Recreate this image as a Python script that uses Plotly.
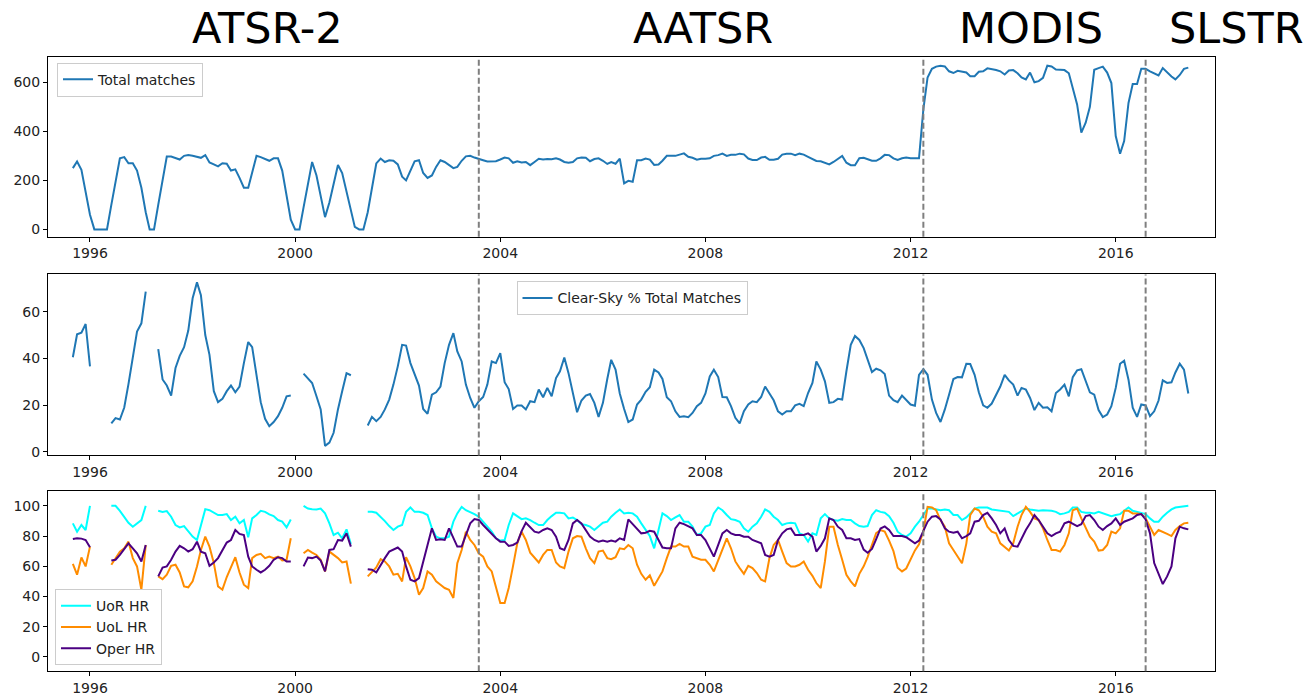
import pandas as pd
import plotly.graph_objects as go

N = None
months = pd.date_range("1995-09-01", periods=262, freq="MS")

total_matches = [
    250, 277, 243, 150, 60, 0, 0, 0, 0, 100,
    200, 290, 295, 270, 270, 240, 170, 70, 0, 0,
    100, 200, 297, 297, 292, 285, 300, 303, 300, 296,
    292, 303, 273, 265, 257, 270, 268, 240, 245, 210,
    170, 170, 235, 300, 295, 288, 280, 290, 290, 240,
    140, 40, 0, 0, 90, 180, 275, 220, 140, 50,
    110, 190, 263, 230, 150, 70, 10, 0, 0, 70,
    170, 269, 289, 275, 282, 280, 265, 215, 200, 240,
    278, 282, 230, 210, 220, 255, 282, 275, 262, 250,
    255, 280, 298, 300, 293, 289, 282, 277, 276, 278,
    285, 293, 290, 272, 278, 273, 275, 262, 275, 288,
    285, 287, 286, 290, 285, 275, 272, 275, 290, 293,
    292, 278, 287, 290, 280, 267, 275, 268, 289, 188,
    198, 194, 282, 282, 289, 285, 263, 265, 280, 300,
    300, 300, 305, 310, 296, 292, 284, 288, 288, 290,
    300, 303, 309, 300, 304, 304, 309, 306, 289, 283,
    283, 293, 296, 284, 284, 288, 305, 309, 309, 303,
    309, 305, 296, 286, 279, 278, 270, 265, 275, 288,
    300, 272, 262, 262, 290, 292, 287, 280, 280, 290,
    304, 303, 290, 283, 290, 293, 290, 289, 290, 490,
    620, 655, 664, 668, 665, 645, 638, 647, 644, 640,
    625, 625, 643, 645, 657, 655, 650, 645, 632, 648,
    650, 637, 620, 612, 640, 600, 605, 618, 668, 665,
    652, 651, 650, 637, 580, 510, 395, 435, 500, 651,
    658, 664, 640, 597, 381, 309, 360, 516, 593, 593,
    655, 655, 645, 635, 628, 658, 640, 624, 612, 630,
    655, 660,
]

clear_sky_pct = [
    40.5, 50.3, 51, 54.7, 36.6, N, N, N, N, 12.2,
    14.5, 13.9, 19, 29, 41, 51.5, 55, 68.5, N, N,
    44, 31, 28.4, 24.1, 35.9, 41.1, 44.8, 51.9, 65.7, 72.5,
    67, 50, 41.5, 26, 21.3, 22.7, 26, 28.4, 25.5, 28,
    38, 47, 44.8, 32.3, 21.3, 14.2, 11, 12.8, 15.3, 18.9,
    23.8, 24.1, N, N, 33.5, 31.6, 29.5, 23.8, 18.2, 2.6,
    4, 8.2, 18.2, 26, 33.7, 32.8, N, N, N, 11.3,
    15, 13.2, 15, 18.2, 22.4, 28.8, 36.6, 45.8, 45.5, 38,
    33, 28.4, 18.4, 16.3, 24.5, 25.5, 28, 38, 45.8, 50.8,
    43, 38.7, 28.8, 23.1, 18.9, 21.7, 23.5, 28.8, 38.7, 38,
    42.3, 29.8, 26.9, 18.4, 19.9, 19.9, 18.2, 21.7, 21.3, 26.7,
    23.4, 27.4, 23.8, 31.6, 34.5, 40.4, 33.7, 25.2, 17, 22,
    24.1, 24.8, 21, 15, 21, 31.2, 39.4, 35.2, 25, 18.4,
    12.8, 13.9, 20.3, 22.4, 25.7, 27.7, 35.2, 34, 31.2, 23.4,
    21.7, 17.4, 15, 15.3, 14.9, 16.7, 19.6, 21, 25, 32.3,
    35.2, 32, 23.5, 23.4, 19.6, 14.6, 12.2, 17.4, 20.3, 21.7,
    21.3, 23.5, 28, 25, 22.1, 17.4, 16, 17.4, 17.4, 19.9,
    20.6, 19.6, 25.2, 29.5, 38.7, 35.2, 30.2, 21, 21.3, 22.7,
    22.4, 34.5, 45.8, 49.6, 47.9, 44.4, 39.1, 34.2, 35.6, 34.9,
    33.3, 24.1, 22.1, 21.3, 24.1, 22.1, 20.3, 19.8, 33, 35.4,
    33, 22.4, 16.7, 12.8, 18.2, 24.5, 31.2, 32, 31.9, 37.7,
    37.6, 33, 25.5, 19.9, 18.9, 20.7, 24.1, 28, 33, 30.6,
    28.8, 24.1, 27.4, 26.7, 23.1, 17.9, 21, 18.9, 19.1, 17.4,
    25.2, 26.7, 28.8, 23.8, 32, 34.9, 35.4, 30.2, 25.5, 24.5,
    17.9, 14.9, 16, 19.6, 27.4, 37.7, 39, 30.9, 18.9, 15,
    20.3, 19.9, 15.3, 17.4, 22, 30.6, 29.5, 29.8, 34, 37.7,
    35.2, 25,
]

uor_hr = [
    88.4, 82.9, 87.3, 84, 100, N, N, N, N, 100,
    100, 96.7, 92.8, 88.8, 86.2, 88.4, 90.6, 100, N, N,
    96.7, 96, 96.5, 92.8, 87.3, 85.7, 86.6, 82.9, 79.6, 77.4,
    88, 97.8, 97.1, 95.4, 93.9, 93.9, 94.5, 90.6, 92.8, 88.4,
    90.6, 79.2, 91.7, 93.9, 96.7, 96, 94.3, 93.2, 90.6, 89.5,
    85.7, 91, N, N, 100, 98.2, 97.8, 97.6, 98.2, 95,
    88.4, 80.7, 82.2, 78.5, 84.4, 74.8, N, N, N, 96,
    96, 95.4, 92.8, 89.9, 86.6, 84, 86.2, 87.3, 96, 98.9,
    96, 96, 95.4, 93.9, 85.1, 79.6, 78.5, 78.5, 79.6, 89.5,
    95, 99.3, 97.1, 96, 94.5, 92.8, 89.5, 86.2, 82.9, 78.5,
    77, 77.4, 87.3, 95, 93.2, 91.2, 91.7, 90.6, 88.8, 87.3,
    87.3, 90.6, 93.2, 95.4, 95.4, 95, 91.7, 92.3, 90.6, 87.9,
    87.3, 86.2, 84, 86.6, 88.8, 89.5, 92.8, 95.4, 97.6, 95,
    95.4, 95, 92.8, 88.4, 84, 80, 71.9, 84, 95, 93.2,
    90.6, 92.3, 93.9, 89.5, 89.5, 86.2, 80.7, 81.8, 86.2, 87.3,
    95, 98.9, 97.1, 93.9, 91.2, 90.6, 89.5, 85.1, 82.9, 86.2,
    88.4, 92.8, 97.6, 96, 92.8, 90.6, 87.3, 88.4, 88.8, 88.4,
    81.8, 80.7, 76.3, 81.8, 80.7, 91.7, 94.5, 91.7, 90.6, 90.1,
    91.2, 90.6, 90.6, 88.4, 86.6, 86.2, 86.6, 93.9, 97.1, 96,
    95.4, 93.2, 88.8, 82.9, 80.7, 79.6, 81.8, 86.2, 89.5, 93.9,
    98.2, 98.2, 97.6, 97.1, 97.6, 97.1, 93.9, 93.9, 90.6, 92.3,
    95, 98.2, 98.9, 98.9, 98.9, 97.6, 97.1, 96.7, 96, 96,
    93.2, 95, 96.7, 98.2, 97.6, 97.1, 96.7, 97.1, 97.1, 96.7,
    96, 94.5, 95, 96, 98.9, 98.9, 96, 95.4, 95.4, 95,
    96, 95, 93.9, 93.2, 93.9, 94.5, 96.7, 98.9, 96.7, 96,
    95.4, 94.5, 91.7, 89.5, 89.5, 92.8, 95.4, 97.6, 98.9, 99.3,
    100, 100,
]

uol_hr = [
    61.6, 54.4, 65.8, 59.9, 73, N, N, N, N, 61,
    65.4, 69.7, 71.9, 76.3, 65.4, 59.9, 44.5, 74, N, N,
    53.3, 51.5, 54.4, 60.3, 61, 55.9, 46.7, 46.1, 50, 59.9,
    70.8, 79.6, 73, 62.1, 46.7, 44.5, 52.9, 58.8, 66, 55.9,
    47.8, 45.6, 65.4, 67.5, 68.2, 65.4, 66.4, 65.4, 66.4, 63.8,
    64.3, 78.5, N, N, 68.6, 70.8, 69, 67.5, 64.3, 56.6,
    69.7, 67.5, 65.4, 62.5, 63.2, 48.5, N, N, N, 53.3,
    55.9, 59.2, 64.7, 63.2, 59.9, 54.4, 55, 50, 66, 59.9,
    52.2, 41.2, 45.6, 56.6, 54.4, 50, 47.8, 45.6, 44.5, 39,
    62.1, 70.8, 82.9, 77.4, 74.1, 68.6, 66.4, 59.9, 56.6, 46.7,
    35.7, 35.7, 45.6, 60.3, 75.2, 82.9, 77.4, 69, 65.4, 62.5,
    67.5, 70.8, 70.8, 62.5, 59.9, 58.8, 69.7, 78.5, 80, 79.6,
    71.9, 65.4, 62.1, 69.7, 70.4, 65.4, 64.7, 66, 71.9, 71.3,
    74.1, 71.9, 61, 55, 51.1, 54, 47.1, 52.2, 56.6, 65.4,
    73, 73, 74.8, 73, 73, 66.4, 65.4, 64.3, 64.3, 61,
    56.6, 64.3, 71.9, 78.5, 71.9, 63.2, 58.8, 55, 60.3, 58.8,
    55.5, 51.1, 50, 65.4, 74.1, 77.4, 69.7, 62.1, 59.9, 59.9,
    61, 63.2, 57.7, 53.7, 48.9, 45.6, 63.2, 86.2, 86.2, 74.1,
    64.3, 54.4, 50, 46.7, 55, 60, 66, 74, 82, 84,
    83, 77, 70, 59, 56.6, 58.5, 65, 70.5, 74.5, 83,
    99.3, 98.9, 97.1, 90.6, 86.2, 75.2, 70.8, 66, 62, 75,
    93.9, 98.2, 97.1, 92.8, 86.2, 82.9, 81.8, 75.2, 72.6, 70.4,
    75.2, 86.2, 93.9, 99.3, 96, 91.7, 90.6, 85.1, 77.4, 70.8,
    70.8, 69.7, 74.1, 81.8, 97.1, 98.2, 91.7, 85.1, 79.6, 76.3,
    70.4, 70.8, 74.1, 82.9, 81.8, 85.1, 96.7, 96.7, 95, 95,
    94.5, 91.7, 86.2, 80.7, 84, 82.9, 81.4, 80, 84, 86.6,
    88.4, 88.8,
]

oper_hr = [
    78, 78.5, 78.3, 77.4, 72.6, N, N, N, N, 63.8,
    64.3, 67.5, 71.3, 75.2, 71.9, 68.6, 63.2, 74.1, N, N,
    53.3, 59.2, 59.9, 64.3, 69.7, 73.5, 71.9, 69.7, 71.3, 76.3,
    69.7, 68.6, 60.3, 62.5, 65.4, 70.8, 75.7, 77.4, 84, 81.4,
    80.7, 66.4, 59.9, 57.7, 55.9, 57.7, 60.3, 64.3, 66, 65.4,
    63.2, 63.2, N, N, 59.9, 65.8, 65.4, 66.4, 63.8, 56.6,
    70.8, 71.3, 77.4, 77, 81.8, 73, N, N, N, 58.1,
    57.7, 55.9, 61, 65.4, 69.7, 70.8, 72.4, 69.7, 59.9, 51.1,
    50, 52.2, 63.8, 74.1, 85.1, 77.4, 77.9, 77.4, 85.1, 78.5,
    73, 73, 80.7, 88.4, 91.2, 90.6, 87.3, 84.4, 81.4, 78.5,
    76.3, 76.3, 73.5, 74.1, 75.7, 83.3, 88.8, 85.7, 82.9, 82.2,
    84, 85.1, 84, 79.6, 71.9, 70.8, 77.4, 88.4, 90.6, 88.4,
    84, 79.6, 77.4, 76.3, 77, 76.3, 77, 76.3, 78.5, 77.4,
    91, 87.9, 85.1, 81.8, 82.2, 83.5, 82.9, 77.4, 72.4, 71.9,
    71.9, 85.1, 88.8, 87.9, 86.2, 85.1, 80.7, 80.7, 77.4, 71.9,
    66.4, 74.1, 81.8, 84, 81.8, 80.7, 80.7, 79.6, 79.6, 77.4,
    76.3, 75.2, 67.5, 66.4, 67.5, 77.4, 81.8, 84.4, 85.1, 80.7,
    80.7, 80.7, 81.8, 79.6, 69.7, 73.5, 78.5, 91.7, 90.6, 86.2,
    84, 78.5, 78.5, 77.4, 78, 71, 69, 71.5, 78, 85,
    86.4, 84, 80, 80, 80, 79.2, 77, 75.2, 77, 84,
    89.5, 92.8, 93.2, 91, 85.1, 82.9, 82.2, 82.9, 78.5, 80,
    81.8, 89.5, 90.1, 93.9, 95.4, 91.7, 87.3, 81.8, 85.1, 77.4,
    73.5, 73, 78.5, 84, 88.4, 93.9, 90.6, 86.6, 81.8, 80,
    81.8, 82.9, 88.4, 89.5, 87.9, 86.6, 87.9, 93.2, 93.9, 90.6,
    86.2, 84, 86.6, 88.4, 91.7, 87.3, 89.5, 90.6, 91.7, 93.9,
    94.5, 91, 81.8, 62.1, 55, 48.2, 53.3, 59.9, 78.5, 86.2,
    85.1, 84.4,
]

sensor_changes = ["2003-08-01", "2012-04-01", "2016-08-01"]
sensor_names = ["ATSR-2", "AATSR", "MODIS", "SLSTR"]
sensor_label_x = [267, 703, 1031, 1236]
year_ticks = [1996, 2000, 2004, 2008, 2012, 2016]

W, H = 1309, 699
FONT = "DejaVu Sans"
BLUE = "#1f77b4"
TXT = "#222222"

fig = go.Figure()
fig.add_trace(go.Scatter(x=months, y=total_matches, mode="lines", name="Total matches",
                         line=dict(color=BLUE, width=2), xaxis="x", yaxis="y", legend="legend"))
fig.add_trace(go.Scatter(x=months, y=clear_sky_pct, mode="lines", name="Clear-Sky % Total Matches",
                         line=dict(color=BLUE, width=2), xaxis="x2", yaxis="y2", legend="legend2"))
for vals, nm, col in [(uor_hr, "UoR HR", "#00ffff"), (uol_hr, "UoL HR", "#ff8c00"),
                      (oper_hr, "Oper HR", "#4b0082")]:
    fig.add_trace(go.Scatter(x=months, y=vals, mode="lines", name=nm,
                             line=dict(color=col, width=2), xaxis="x3", yaxis="y3", legend="legend3"))

xdom = [48 / W, 1215 / W]
xrange_ = ["1995-03-08", "2017-12-08"]
rows = [(57, 238), (276, 458), (494, 675)]
yranges = [[-29.6, 704.7], [-1.45, 75.9], [-9.4, 109.7]]
ytick_sets = [[0, 200, 400, 600], [0, 20, 40, 60], [0, 20, 40, 60, 80, 100]]

axis_common = dict(showline=True, linecolor="black", linewidth=1, mirror=True,
                   ticks="outside", ticklen=4, tickcolor="black", showgrid=False,
                   zeroline=False, tickfont=dict(family=FONT, size=14, color=TXT))
layout = dict(width=W, height=H, margin=dict(l=0, r=0, t=0, b=0),
              paper_bgcolor="white", plot_bgcolor="white", showlegend=True)
for i, ((top, bot), yr, yt) in enumerate(zip(rows, yranges, ytick_sets)):
    sfx = "" if i == 0 else str(i + 1)
    layout["xaxis" + sfx] = dict(domain=xdom, range=xrange_, type="date", anchor="y" + sfx,
                                 tickvals=[f"{y}-01-01" for y in year_ticks],
                                 ticktext=[str(y) for y in year_ticks], **axis_common)
    layout["yaxis" + sfx] = dict(domain=[1 - bot / H, 1 - top / H], range=yr, anchor="x" + sfx,
                                 tickvals=yt, ticktext=[str(v) for v in yt], **axis_common)

leg_common = dict(bgcolor="rgba(255,255,255,0.8)", bordercolor="#cccccc", borderwidth=1,
                  font=dict(family=FONT, size=14, color=TXT))
layout["legend"] = dict(x=57 / W, y=1 - 63 / H, xanchor="left", yanchor="top", **leg_common)
layout["legend2"] = dict(x=632 / W, y=1 - 283 / H, xanchor="center", yanchor="top", **leg_common)
layout["legend3"] = dict(x=55 / W, y=1 - 669 / H, xanchor="left", yanchor="bottom", **leg_common)
fig.update_layout(**layout)

shapes = []
for sfx in ["", "2", "3"]:
    for d in sensor_changes:
        shapes.append(dict(type="line", xref="x" + sfx, yref=f"y{sfx} domain", x0=d, x1=d, y0=0, y1=1,
                           line=dict(color="#7f7f7f", width=2, dash="6px,3px")))
fig.update_layout(shapes=shapes)

for name, px in zip(sensor_names, sensor_label_x):
    fig.add_annotation(x=px / W, y=1 - 28 / H, xref="paper", yref="paper", text=name, showarrow=False,
                       xanchor="center", yanchor="middle", font=dict(family=FONT, size=43, color="black"))

fig.write_html("out.html")
